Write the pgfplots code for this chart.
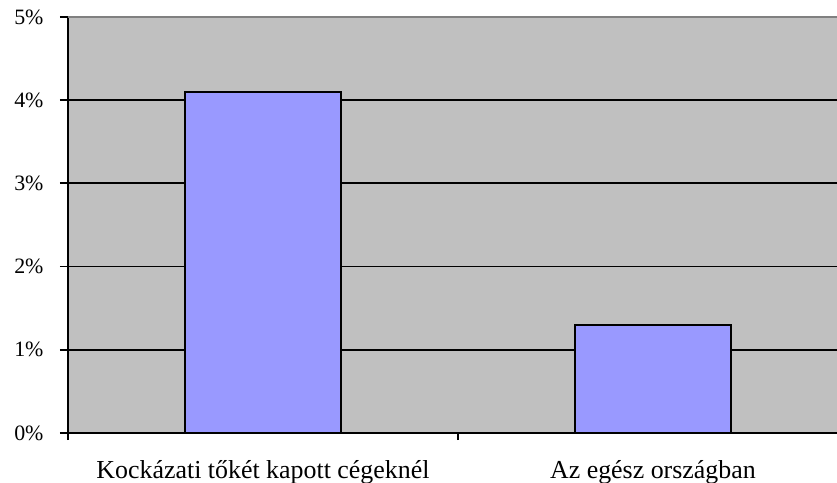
\documentclass[border=0pt]{standalone}
\usepackage{fontspec}
\setmainfont{Liberation Serif}
\usepackage{pgfplots}
\pgfplotsset{compat=1.18}

\definecolor{plotgray}{HTML}{C0C0C0}
\definecolor{barblue}{HTML}{9999FF}
\definecolor{edgegray}{HTML}{808080}

\begin{document}
\begin{tikzpicture}
\begin{axis}[
  scale only axis,
  width=769bp, height=416bp,
  xmin=-0.5, xmax=1.472,
  ymin=0, ymax=5,
  axis x line*=bottom, axis y line*=left,
  axis line style={black, line width=1.8bp, -},
  axis background/.style={fill=plotgray},
  xtick={0,1},
  xticklabels={Kockázati tőkét kapott cégeknél, Az egész országban},
  major x tick style={draw=none},
  minor xtick={-0.5,0.5},
  minor tick length=7bp,
  ytick={0,1,2,3,4,5},
  yticklabels={0\%,1\%,2\%,3\%,4\%,5\%},
  major tick length=8bp,
  tick align=outside,
  tick style={black, line width=1.8bp},
  ymajorgrids,
  grid style={black, line width=1.8bp},
  xticklabel style={font=\fontsize{26}{30}\selectfont, anchor=base, yshift=-37bp},
  yticklabel style={font=\fontsize{22}{26}\selectfont, xshift=-13bp},
  /pgf/number format/assume math mode=true,
  clip=false,
]
\addplot[ybar, bar width=0.4, fill=barblue, draw=black, line width=1.8bp]
  coordinates {(0,4.1) (1,1.3)};
\draw[edgegray, line width=2bp] (rel axis cs:0,1) -- (rel axis cs:1,1);
\coordinate (bl) at (rel axis cs:0,0);
\coordinate (tr) at (rel axis cs:1,1);
\end{axis}
\pgfresetboundingbox
\path ([xshift=-68bp,yshift=-50bp]bl) rectangle ([yshift=17bp]tr);
\end{tikzpicture}
\end{document}
